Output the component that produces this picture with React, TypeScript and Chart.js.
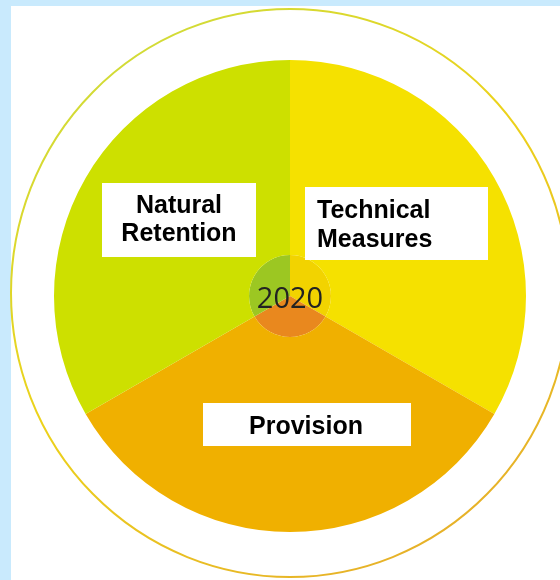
import React, { useEffect, useRef } from "react";
import { Chart, registerables } from "chart.js";

Chart.register(...registerables);

// ---- data ----
const categories: string[] = ["Technical Measures", "Provision", "Natural Retention"];
const shares: number[] = [1, 1, 1];
const labelLines: string[][] = [["Technical", "Measures"], ["Provision"], ["Natural", "Retention"]];
const centerLabel = "2020";

// ---- styles ----
const outerColors = ["#f5e100", "#f0b000", "#cde000"];
const innerColors = ["#f2d300", "#e9881e", "#9cc722"];

const overlayPlugin = {
  id: "overlay",
  beforeDatasetsDraw(chart: any) {
    const arc = chart.getDatasetMeta(0).data[0];
    if (!arc) return;
    const cx = arc.x, cy = arc.y;
    const ctx = chart.ctx as CanvasRenderingContext2D;
    ctx.save();
    const g = ctx.createLinearGradient(cx - 200, cy - 250, cx + 150, cy + 280);
    g.addColorStop(0, "#cfdc3a");
    g.addColorStop(0.45, "#ecd21a");
    g.addColorStop(1, "#e6ae2a");
    ctx.strokeStyle = g;
    ctx.lineWidth = 2;
    ctx.beginPath();
    ctx.ellipse(cx, cy - 3, 279, 284, 0, 0, Math.PI * 2);
    ctx.stroke();
    ctx.restore();
  },
  afterDatasetsDraw(chart: any) {
    const arc = chart.getDatasetMeta(0).data[0];
    if (!arc) return;
    const cx = arc.x, cy = arc.y;
    const ctx = chart.ctx as CanvasRenderingContext2D;
    ctx.save();
    // center label
    ctx.fillStyle = "#222222";
    ctx.font = '29px "Open Sans", "DejaVu Sans", sans-serif';
    ctx.textAlign = "center";
    ctx.textBaseline = "middle";
    ctx.fillText(centerLabel, cx, cy + 4);

    // label boxes (index matches categories)
    const boxes = [
      { l: 15, t: -109, w: 183, h: 73, align: "left", tx: 27, bases: [-78, -49] },
      { l: -87, t: 107, w: 208, h: 43, align: "center", tx: 16, bases: [138] },
      { l: -188, t: -113, w: 154, h: 74, align: "center", tx: -111, bases: [-83, -55] },
    ];
    ctx.font = 'bold 25px "Liberation Sans", Arial, sans-serif';
    ctx.textBaseline = "alphabetic";
    boxes.forEach((b, i) => {
      ctx.fillStyle = "#ffffff";
      ctx.fillRect(cx + b.l, cy + b.t, b.w, b.h);
      ctx.fillStyle = "#000000";
      ctx.textAlign = b.align as CanvasTextAlign;
      labelLines[i].forEach((line, j) => {
        ctx.fillText(line, cx + b.tx, cy + b.bases[j]);
      });
    });
    ctx.restore();
  },
};

export default function App() {
  const ref = useRef<HTMLCanvasElement | null>(null);
  useEffect(() => {
    if (!ref.current) return;
    const chart = new Chart(ref.current, {
      type: "pie",
      data: {
        labels: categories,
        datasets: [
          { data: shares, backgroundColor: outerColors, borderWidth: 0, weight: 195 } as any,
          { data: shares, backgroundColor: innerColors, borderWidth: 0, weight: 41 } as any,
        ],
      },
      options: {
        responsive: false,
        animation: false,
        devicePixelRatio: 1,
        layout: { padding: { left: 54, right: 34, top: 60, bottom: 48 } },
        plugins: { legend: { display: false }, tooltip: { enabled: false } },
      },
      plugins: [overlayPlugin],
    });
    return () => chart.destroy();
  }, []);
  return (
    <div style={{ position: "fixed", left: 0, top: 0, width: 560, height: 580, background: "#c9eafd", overflow: "hidden" }}>
      <div style={{ position: "absolute", left: 11, top: 6, right: 0, bottom: 0, background: "#ffffff" }} />
      <canvas ref={ref} width={560} height={580} style={{ position: "absolute", left: 0, top: 0, width: 560, height: 580 }} />
    </div>
  );
}
